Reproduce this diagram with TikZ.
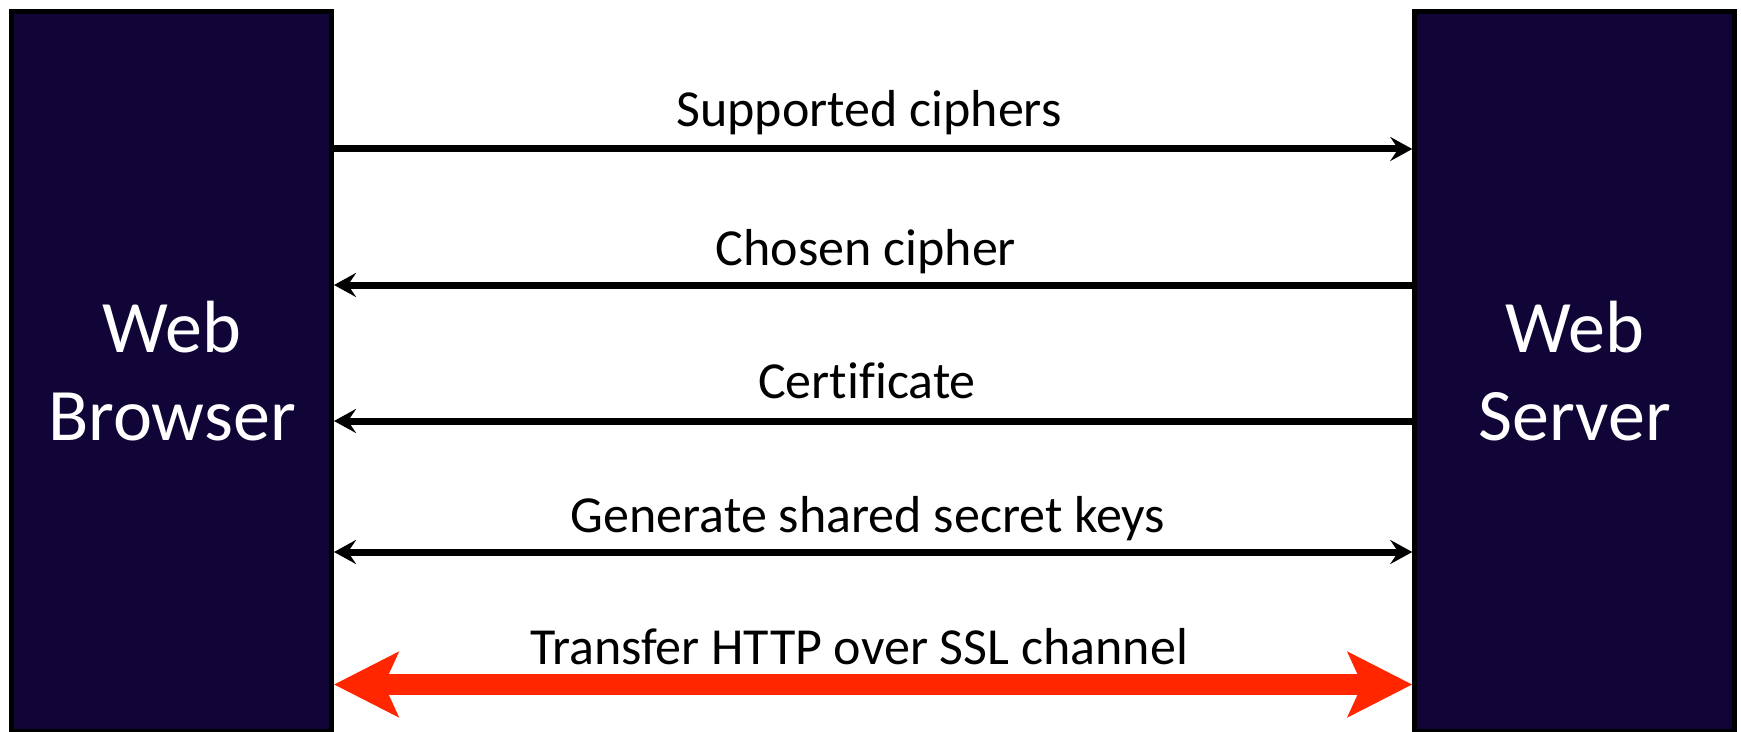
\documentclass[tikz,border=0pt]{standalone}
\usepackage{fontspec}
\setmainfont{Carlito}[Ligatures=NoCommon]
\usetikzlibrary{arrows.meta}
\definecolor{navy}{RGB}{17,5,56}
\definecolor{sslred}{RGB}{255,38,0}
\begin{document}
\begin{tikzpicture}[x=1bp,y=-1bp,
  party/.style={draw=black, line width=5bp, fill=navy, minimum width=319.5bp, minimum height=719.5bp, inner sep=0pt},
  partytext/.style={text=white, align=center, font=\fontsize{74bp}{88bp}\selectfont, inner sep=0pt},
  msglabel/.style={font=\fontsize{52bp}{60bp}\selectfont, anchor=base, inner sep=0pt},
  msg/.style={draw=black, line width=7bp, arrows={-Stealth[length=22bp, width=24bp, inset=8bp]}},
  msgboth/.style={draw=black, line width=7bp, arrows={Stealth[length=22bp, width=24bp, inset=8bp]-Stealth[length=22bp, width=24bp, inset=8bp]}},
  ssl/.style={draw=sslred, line width=21bp, arrows={Stealth[length=64bp, width=64bp, inset=14bp]-Stealth[length=64bp, width=64bp, inset=14bp]}}
]
\useasboundingbox (0,0) rectangle (1741,732);
\fill[white] (0,0) rectangle (1741,732);
\node[party] (B) at (171.75,371.25) {};
\node[party] (S) at (1574.5,371.25) {};
\node[partytext] (Bt) at (172,371) {Web\\Browser};
\node[partytext] (St) at (1574.5,371) {Web\\Server};
\coordinate (y1) at (0,149);
\coordinate (y2) at (0,285);
\coordinate (y3) at (0,421);
\coordinate (y4) at (0,552);
\coordinate (y5) at (0,684.5);
\draw[msg] (B.east |- y1) -- (S.west |- y1);
\draw[msg] (S.west |- y2) -- (B.east |- y2);
\draw[msg] (S.west |- y3) -- (B.east |- y3);
\draw[msgboth] (B.east |- y4) -- (S.west |- y4);
\draw[ssl] (B.east |- y5) -- (S.west |- y5);
\node[msglabel] (l1) at (869,127) {Supported ciphers};
\node[msglabel] (l2) at (866,265) {Chosen cipher};
\node[msglabel] (l3) at (867,398) {Certificate};
\node[msglabel] (l4) at (868,532) {Generate shared secret keys};
\node[msglabel] (l5) at (859,664) {Transfer HTTP over SSL channel};
\end{tikzpicture}
\end{document}
